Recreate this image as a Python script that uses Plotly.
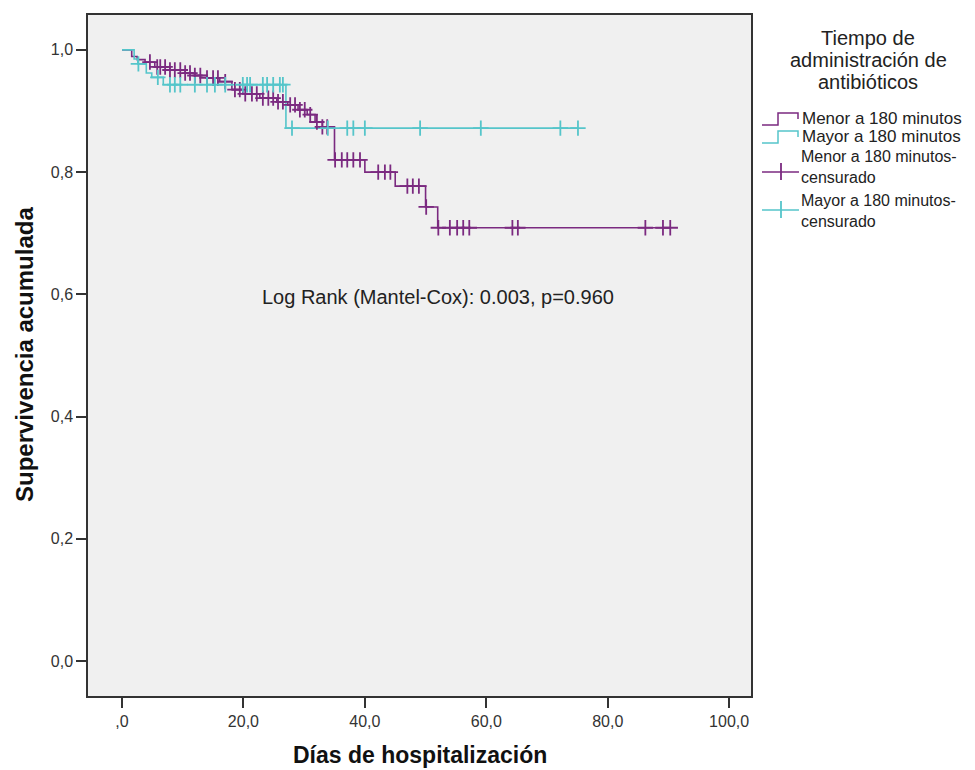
import plotly.graph_objects as go

# ---- Data ----
# Kaplan-Meier event steps: time (days) and cumulative survival after the step
menor_event_t = [0, 1.6, 2.5, 3.8, 5.4, 7.9, 10.4, 12.0, 14.0, 16.1, 18.1, 19.9, 22.7, 25.5,
                 27.3, 29.0, 30.5, 31.8, 33.0, 35.0, 40.0, 45.0, 50.0, 52.0]
menor_event_s = [1.0, 0.989, 0.984, 0.980, 0.972, 0.967, 0.962, 0.958, 0.954, 0.948, 0.935,
                 0.928, 0.921, 0.915, 0.910, 0.902, 0.894, 0.882, 0.874, 0.820, 0.800, 0.777,
                 0.743, 0.709]
menor_censor_t = [4.6, 5.8, 6.3, 7.1, 7.9, 8.7, 9.6, 10.4, 11.2, 12.0, 12.9, 14.0, 15.0, 15.8,
                  17.0, 18.6, 19.4, 20.3, 21.4, 22.2, 23.2, 24.1, 24.9, 25.7, 26.5, 27.7, 28.5,
                  29.3, 30.1, 31.0, 32.1, 33.0, 33.8, 35.1, 36.2, 37.1, 38.1, 39.2, 42.2, 43.3,
                  44.2, 47.0, 47.9, 48.9, 50.1, 52.1, 54.0, 55.2, 56.2, 57.2, 64.3, 65.2, 86.2,
                  89.1, 90.3]

mayor_event_t = [0, 2.0, 2.6, 4.0, 4.9, 6.8, 27.0]
mayor_event_s = [1.0, 0.985, 0.977, 0.962, 0.955, 0.943, 0.872]
mayor_censor_t = [2.7, 5.9, 7.9, 8.7, 9.6, 12.0, 14.0, 15.3, 17.0, 19.9, 20.6, 21.1, 23.2, 23.9,
                  24.9, 26.0, 26.5, 28.0, 33.9, 37.1, 38.1, 40.0, 49.1, 59.1, 72.2, 75.1]

x_tickvals = [0, 20, 40, 60, 80, 100]
x_ticktext = [",0", "20,0", "40,0", "60,0", "80,0", "100,0"]
y_tickvals = [0.0, 0.2, 0.4, 0.6, 0.8, 1.0]
y_ticktext = ["0,0", "0,2", "0,4", "0,6", "0,8", "1,0"]

series_names = ["Menor a 180 minutos", "Mayor a 180 minutos"]
censor_names = ["Menor a 180 minutos-<br>censurado", "Mayor a 180 minutos-<br>censurado"]
legend_title_lines = ["Tiempo de", "administración de", "antibióticos"]
logrank_text = "Log Rank (Mantel-Cox): 0.003, p=0.960"
x_title = "Días de hospitalización"
y_title = "Supervivencia acumulada"

PURPLE = "#7B2A80"
CYAN = "#55C5CA"
FONT = "Arial, Liberation Sans, sans-serif"

# layout geometry (pixels)
W, H = 975, 770
ML, MR, MT, MB = 88, 224, 15, 74
PW, PH = W - ML - MR, H - MT - MB


def px_x(p):
    return (p - ML) / PW


def px_y(p):
    return (H - MB - p) / PH


def surv_at(t, et, es):
    s = es[0]
    for ti, si in zip(et, es):
        if ti <= t:
            s = si
    return s


def step_xy(et, es, ct):
    end = max(ct[-1], et[-1])
    return list(et) + [end], list(es) + [es[-1]]


fig = go.Figure()

for et, es, ct, col, nm in [(menor_event_t, menor_event_s, menor_censor_t, PURPLE, series_names[0]),
                            (mayor_event_t, mayor_event_s, mayor_censor_t, CYAN, series_names[1])]:
    xs, ys = step_xy(et, es, ct)
    fig.add_trace(go.Scatter(x=xs, y=ys, mode="lines", line=dict(color=col, width=1.6, shape="hv"),
                             name=nm, showlegend=False))

for et, es, ct, col, nm in [(menor_event_t, menor_event_s, menor_censor_t, PURPLE, series_names[0]),
                            (mayor_event_t, mayor_event_s, mayor_censor_t, CYAN, series_names[1])]:
    fig.add_trace(go.Scatter(x=ct, y=[surv_at(c, et, es) for c in ct], mode="markers",
                             name=nm + " censurado",
                             marker=dict(symbol="cross-thin-open", size=11, color=col,
                                         line=dict(color=col, width=1.8)),
                             showlegend=False))

# ---- annotations: statistic and axis titles ----
fig.add_annotation(x=52, y=0.596, xref="x", yref="y", text=logrank_text, showarrow=False,
                   font=dict(family=FONT, size=20, color="#222222"))
fig.add_annotation(x=0.5, y=px_y(755), xref="paper", yref="paper", text="<b>" + x_title + "</b>",
                   showarrow=False, xanchor="center", yanchor="middle",
                   font=dict(family=FONT, size=23, color="#111111"))
fig.add_annotation(x=px_x(24), y=px_y(355), xref="paper", yref="paper",
                   text="<b>" + y_title + "</b>",
                   showarrow=False, textangle=-90, xanchor="center", yanchor="middle",
                   font=dict(family=FONT, size=24, color="#111111"))

# ---- hand-built legend (SPSS style) ----
for line, ypix in zip(legend_title_lines, [38, 60, 82]):
    fig.add_annotation(x=px_x(868), y=px_y(ypix), xref="paper", yref="paper", text=line,
                       showarrow=False, xanchor="center", yanchor="middle",
                       font=dict(family=FONT, size=20, color="#222222"))

TEXT_X = 800
for col, nm, yc in [(PURPLE, series_names[0], 119), (CYAN, series_names[1], 137)]:
    path = "M {} {} L {} {} L {} {} L {} {} L {} {}".format(
        px_x(762), px_y(yc + 6), px_x(778), px_y(yc + 6), px_x(778), px_y(yc - 6),
        px_x(798), px_y(yc - 6), px_x(798), px_y(yc))
    fig.add_shape(type="path", path=path, xref="paper", yref="paper",
                  line=dict(color=col, width=1.5))
    fig.add_annotation(x=px_x(TEXT_X), y=px_y(yc), xref="paper", yref="paper", text=nm,
                       showarrow=False, xanchor="left", yanchor="middle",
                       font=dict(family=FONT, size=17, color="#222222"))

for col, txt, ym, yl in [(PURPLE, censor_names[0], 167, 172),
                         (CYAN, censor_names[1], 211, 210)]:
    fig.add_shape(type="line", xref="paper", yref="paper", x0=px_x(762), x1=px_x(799),
                  y0=px_y(yl), y1=px_y(yl), line=dict(color=col, width=1.5))
    fig.add_shape(type="line", xref="paper", yref="paper", x0=px_x(781), x1=px_x(781),
                  y0=px_y(yl - 9), y1=px_y(yl + 8), line=dict(color=col, width=1.8))
    fig.add_annotation(x=px_x(TEXT_X), y=px_y(ym), xref="paper", yref="paper", text=txt,
                       showarrow=False, xanchor="left", yanchor="middle", align="left",
                       borderpad=0, font=dict(family=FONT, size=16, color="#222222"))

fig.update_layout(
    width=W, height=H,
    margin=dict(l=ML, r=MR, t=MT, b=MB, autoexpand=False),
    paper_bgcolor="white",
    plot_bgcolor="#F0F0F0",
    font=dict(family=FONT, color="#222222"),
    showlegend=False,
    xaxis=dict(
        range=[-5.6, 103.6], tickvals=x_tickvals, ticktext=x_ticktext, automargin=False,
        showgrid=False, zeroline=False, showline=True, mirror=True,
        linecolor="#333333", linewidth=1.5, ticks="outside", ticklen=10, tickwidth=1.5,
        tickcolor="#333333", tickfont=dict(family=FONT, size=16, color="#333333"),
    ),
    yaxis=dict(
        range=[-0.057, 1.057], tickvals=y_tickvals, ticktext=y_ticktext, automargin=False,
        showgrid=False, zeroline=False, showline=True, mirror=True,
        linecolor="#333333", linewidth=1.5, ticks="outside", ticklen=10, tickwidth=1.5,
        tickcolor="#333333", tickfont=dict(family=FONT, size=16, color="#333333"),
    ),
)

fig.write_html("out.html", config={"displayModeBar": False},
               post_script="document.body.style.margin='0px';")
